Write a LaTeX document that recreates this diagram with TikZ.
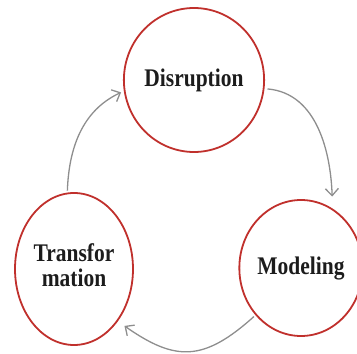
\documentclass[tikz,border=0pt]{standalone}
\usepackage{fontspec}
\setmainfont{Liberation Serif}
\usetikzlibrary{shapes.geometric,arrows.meta}
\definecolor{ringred}{HTML}{C0302C}
\definecolor{flowgray}{HTML}{8E8E8E}
\definecolor{inkblack}{HTML}{1C1C1C}
\newcommand{\tallword}[1]{\scalebox{1}[1.18]{#1}}

\begin{document}
\begin{tikzpicture}[x=1pt,y=1pt,
	stage/.style={ellipse,draw=ringred,line width=1.8pt,inner sep=0pt,text=inkblack,
		font=\fontsize{21.5}{21}\selectfont\bfseries},
	flow/.style={draw=flowgray,line width=1.3pt,-{Straight Barb[length=7pt,width=13pt]}}]
	\useasboundingbox (0,0) rectangle (357,354);
	\node[stage,minimum width=122pt,minimum height=144pt] (disr) at (194,274) {\tallword{Disruption}};
	\node[stage,minimum width=112pt,minimum height=136pt] (model) at (301,86) {\tallword{Modeling}};
	\node[stage,minimum width=118pt,minimum height=152pt] (trans) at (74,85)
		{\tallword{\begin{tabular}{@{}c@{}}Transfor\\mation\end{tabular}}};
	\draw[flow,shorten <=3pt,shorten >=12pt] (disr.-7) to[out=-5,in=92] (model.62);
	\draw[flow,shorten <=2pt,shorten >=8pt] (model.226) to[out=222,in=-35,looseness=1.3] (trans.-50);
	\draw[flow,shorten <=2pt,shorten >=3pt] (trans.95) to[out=88,in=205] (disr.189);
\end{tikzpicture}
\end{document}
